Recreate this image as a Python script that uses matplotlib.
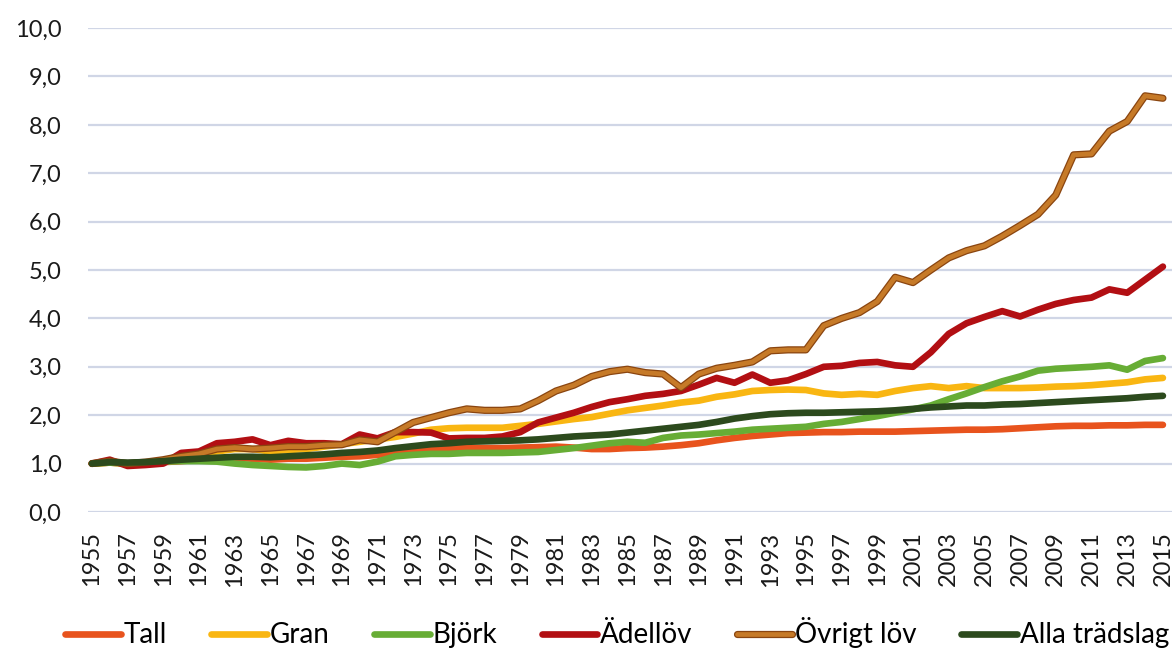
import matplotlib
matplotlib.use('Agg')
import matplotlib.pyplot as plt
import matplotlib.patheffects as pe
from matplotlib.ticker import FuncFormatter, MultipleLocator

plt.rcParams['font.family'] = ['Lato', 'DejaVu Sans']

# år 1955-2015
years = list(range(1955, 2016))

tall = [1.00, 1.02, 1.00, 1.02, 1.03, 1.05, 1.08, 1.10, 1.12, 1.10,
        1.08, 1.10, 1.10, 1.12, 1.14, 1.15, 1.18, 1.22, 1.27, 1.30,
        1.32, 1.32, 1.32, 1.32, 1.33, 1.34, 1.35, 1.33, 1.30, 1.30,
        1.32, 1.33, 1.35, 1.38, 1.42, 1.48, 1.53, 1.57, 1.60, 1.63,
        1.64, 1.65, 1.65, 1.66, 1.66, 1.66, 1.67, 1.68, 1.69, 1.70,
        1.70, 1.71, 1.73, 1.75, 1.77, 1.78, 1.78, 1.79, 1.79, 1.80, 1.80]

gran = [1.00, 1.02, 1.00, 1.02, 1.05, 1.12, 1.20, 1.25, 1.30, 1.30,
        1.25, 1.28, 1.30, 1.35, 1.40, 1.45, 1.50, 1.55, 1.62, 1.70,
        1.73, 1.74, 1.74, 1.74, 1.78, 1.82, 1.87, 1.92, 1.96, 2.03,
        2.10, 2.15, 2.20, 2.26, 2.30, 2.38, 2.43, 2.50, 2.52, 2.53,
        2.52, 2.45, 2.42, 2.44, 2.42, 2.50, 2.56, 2.60, 2.56, 2.60,
        2.56, 2.56, 2.56, 2.57, 2.59, 2.60, 2.62, 2.65, 2.68, 2.74, 2.77]

bjork = [1.00, 1.02, 1.00, 1.02, 1.04, 1.05, 1.05, 1.04, 1.00, 0.97,
         0.95, 0.93, 0.92, 0.95, 1.00, 0.97, 1.04, 1.15, 1.18, 1.20,
         1.20, 1.22, 1.22, 1.22, 1.23, 1.24, 1.28, 1.32, 1.37, 1.42,
         1.45, 1.43, 1.53, 1.58, 1.60, 1.63, 1.66, 1.70, 1.72, 1.74,
         1.76, 1.82, 1.86, 1.92, 1.98, 2.05, 2.12, 2.20, 2.33, 2.45,
         2.58, 2.70, 2.80, 2.92, 2.96, 2.98, 3.00, 3.03, 2.94, 3.12, 3.18]

adellov = [1.00, 1.08, 0.95, 0.97, 1.00, 1.22, 1.25, 1.42, 1.45, 1.50,
           1.38, 1.47, 1.42, 1.42, 1.40, 1.60, 1.52, 1.65, 1.65, 1.64,
           1.52, 1.53, 1.53, 1.56, 1.65, 1.85, 1.95, 2.05, 2.17, 2.27,
           2.33, 2.40, 2.44, 2.50, 2.63, 2.77, 2.67, 2.84, 2.67, 2.72,
           2.85, 3.00, 3.02, 3.08, 3.10, 3.03, 3.00, 3.30, 3.68, 3.90,
           4.03, 4.15, 4.04, 4.18, 4.30, 4.38, 4.43, 4.60, 4.53, 4.80, 5.07]

ovrigt = [1.00, 1.05, 1.00, 1.03, 1.08, 1.15, 1.20, 1.30, 1.33, 1.30,
          1.32, 1.35, 1.35, 1.38, 1.39, 1.49, 1.45, 1.65, 1.85, 1.95,
          2.05, 2.13, 2.10, 2.10, 2.13, 2.30, 2.50, 2.62, 2.80, 2.90,
          2.95, 2.88, 2.85, 2.57, 2.85, 2.97, 3.03, 3.10, 3.33, 3.35,
          3.35, 3.85, 4.00, 4.12, 4.35, 4.85, 4.74, 5.00, 5.25, 5.40,
          5.50, 5.70, 5.92, 6.15, 6.55, 7.38, 7.40, 7.87, 8.07, 8.60, 8.55]

alla = [1.00, 1.03, 1.02, 1.03, 1.05, 1.08, 1.10, 1.12, 1.14, 1.14,
        1.13, 1.15, 1.17, 1.19, 1.22, 1.24, 1.27, 1.32, 1.36, 1.40,
        1.42, 1.45, 1.46, 1.47, 1.48, 1.50, 1.53, 1.56, 1.58, 1.60,
        1.64, 1.68, 1.72, 1.76, 1.80, 1.86, 1.93, 1.98, 2.02, 2.04,
        2.05, 2.05, 2.06, 2.07, 2.08, 2.10, 2.13, 2.16, 2.18, 2.20,
        2.20, 2.22, 2.23, 2.25, 2.27, 2.29, 2.31, 2.33, 2.35, 2.38, 2.40]

namn = ['Tall', 'Gran', 'Björk', 'Ädellöv', 'Övrigt löv', 'Alla trädslag']
serier = [tall, gran, bjork, adellov, ovrigt, alla]
farger = ['#e8531d', '#f9b612', '#67ad35', '#b20f13', '#c67a28', '#2c4a1d']

fig = plt.figure(figsize=(11.73, 6.53), dpi=100)
ax = fig.add_axes([0.075, 0.216, 0.924, 0.741])

for n, s, c in zip(namn, serier, farger):
    if n == 'Övrigt löv':
        ax.plot(years, s, color=c, lw=3.4, label=n, solid_capstyle='round',
                path_effects=[pe.Stroke(linewidth=5.2, foreground='#8a4510'), pe.Normal()])
    else:
        ax.plot(years, s, color=c, lw=4.8, label=n, solid_capstyle='round')

ax.set_ylim(0, 10)
ax.set_xlim(1954.78, 2015.5)
ax.yaxis.set_major_locator(MultipleLocator(1))
ax.yaxis.set_major_formatter(FuncFormatter(lambda v, p: f'{v:.1f}'.replace('.', ',')))
ax.set_xticks(years[::2])
ax.set_xticklabels([str(y) for y in years[::2]], rotation=90)
ax.grid(axis='y', color='#d0d6e6', lw=1.6)
ax.set_axisbelow(True)
for sp in ax.spines.values():
    sp.set_visible(False)
ax.tick_params(axis='y', length=0, pad=19, labelsize=17, labelcolor='#1a1a1a')
ax.tick_params(axis='x', length=0, pad=14, labelsize=17, labelcolor='#1a1a1a')

fig.legend(loc='center', bbox_to_anchor=(0.526, 0.031), ncol=6, frameon=False,
           fontsize=20, handlelength=2.0, handletextpad=0.1, columnspacing=1.6)

fig.savefig('out.png', dpi=100)
